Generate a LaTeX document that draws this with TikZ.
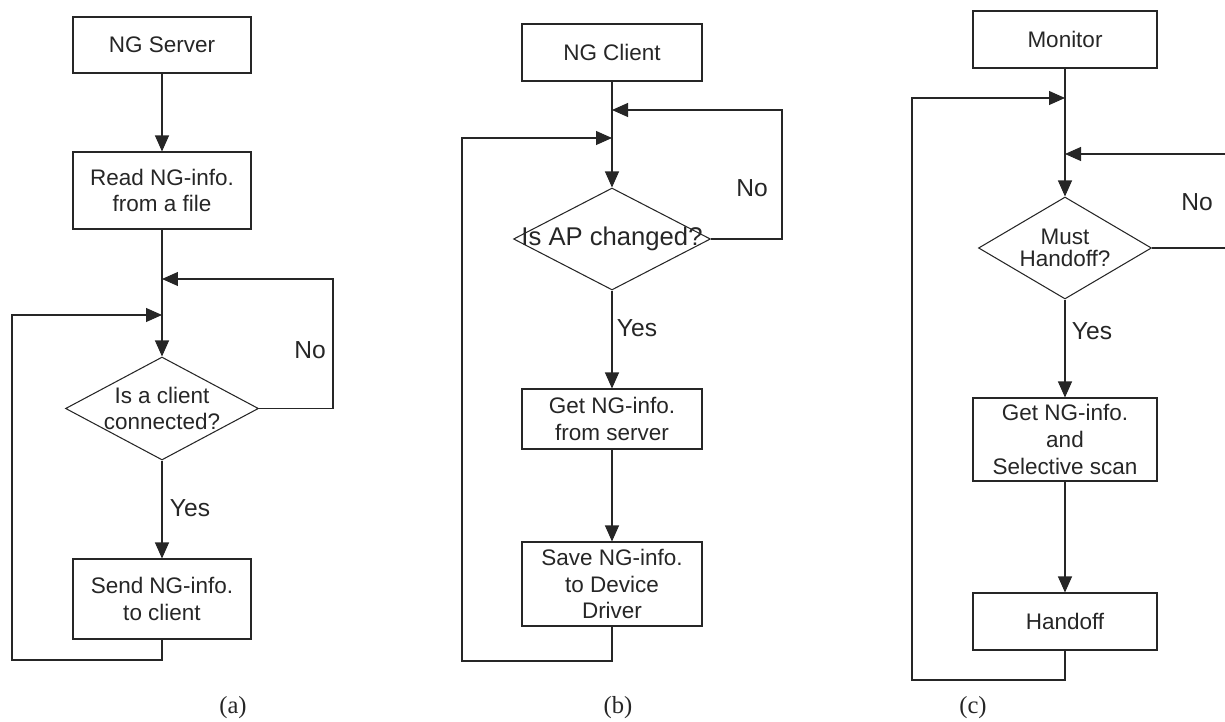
\documentclass[tikz,border=0pt]{standalone}
\usepackage{fontspec}
\setmainfont{Liberation Sans}
\newfontfamily\capfont{Liberation Serif}
\usetikzlibrary{arrows.meta,shapes.geometric}

\begin{document}
\begin{tikzpicture}[x=0.02cm,y=-0.02cm,line width=0.6pt,color=black!85,
  box/.style={draw,rectangle,inner sep=0pt,align=center,font=\fontsize{12.8}{15.3}\selectfont},
  dec/.style={draw,diamond,inner sep=0pt},
  dectext/.style={inner sep=0pt,align=center,font=\fontsize{12.8}{15.3}\selectfont},
  arr/.style={-{Triangle[length=0.32cm,width=0.28cm]}},
  yn/.style={inner sep=0pt,font=\fontsize{14}{16}\selectfont},
  subcap/.style={inner sep=0pt,font=\capfont\fontsize{14}{16}\selectfont}]
\useasboundingbox (0,0) rectangle (1225,722);

\node[box,minimum width=3.56cm,minimum height=1.12cm] (srv) at (162,45) {NG Server};
\node[box,minimum width=3.56cm,minimum height=1.54cm] (rda) at (162,190.5) {Read NG-info.\\from a file};
\node[dec,minimum width=3.86cm,minimum height=2.06cm] (qa) at (162,408.5) {};
\node[dectext] (qat) at (qa) {Is a client\\connected?};
\node[box,minimum width=3.56cm,minimum height=1.6cm] (snd) at (162,599) {Send NG-info.\\to client};
\node[yn] (yesa) at (190,508) {Yes};
\node[yn] (noa) at (310,350) {No};
\node[subcap] (capa) at (233,708) {(a)};
\coordinate (ina) at (162,279);
\coordinate (rta) at (333,279);
\coordinate (lpa) at (12,660);
\coordinate (inla) at (162,315);
\draw[arr] (srv) -- (rda);
\draw[arr] (rda) -- (qa);
\draw[arr] (qa) -- (snd);
\draw[arr] (qa.east) -| (rta) -- (ina);
\draw[arr] (snd.south) |- (lpa) |- (inla);

\node[box,minimum width=3.6cm,minimum height=1.14cm] (cli) at (612,52.5) {NG Client};
\node[dec,minimum width=3.94cm,minimum height=2.04cm] (qb) at (612,239) {};
\node[dectext,font=\fontsize{14.6}{16}\selectfont] (qbt) at (qb) {Is AP changed?};
\node[box,minimum width=3.6cm,minimum height=1.2cm] (getb) at (612,419) {Get NG-info.\\from server};
\node[box,minimum width=3.6cm,minimum height=1.68cm] (savb) at (612,584) {Save NG-info.\\to Device\\Driver};
\node[yn] (yesb) at (637,328) {Yes};
\node[yn] (nob) at (752,188) {No};
\node[subcap] (capb) at (618,708) {(b)};
\coordinate (inb) at (612,110);
\coordinate (rtb) at (782,110);
\coordinate (lpb) at (462,661);
\coordinate (inlb) at (612,138);
\draw[arr] (cli) -- (qb);
\draw[arr] (qb) -- (getb);
\draw[arr] (getb) -- (savb);
\draw[arr] (qb.east) -| (rtb) -- (inb);
\draw[arr] (savb.south) |- (lpb) |- (inlb);

\node[box,minimum width=3.68cm,minimum height=1.14cm] (mon) at (1065,39.5) {Monitor};
\node[dec,minimum width=3.46cm,minimum height=2.04cm] (qc) at (1065,248) {};
\node[dectext,font=\fontsize{12.8}{12.5}\selectfont] (qct) at (qc) {Must\\Handoff?};
\node[box,minimum width=3.68cm,minimum height=1.66cm] (getc) at (1065,439.5) {Get NG-info.\\and\\Selective scan};
\node[box,minimum width=3.68cm,minimum height=1.14cm] (hnd) at (1065,621.5) {Handoff};
\node[yn] (yesc) at (1092,331) {Yes};
\node[yn] (noc) at (1197,202) {No};
\node[subcap] (capc) at (973,708) {(c)};
\coordinate (inc) at (1065,154);
\coordinate (rtc) at (1232,154);
\coordinate (lpc) at (912,680);
\coordinate (inlc) at (1065,98);
\draw[arr] (mon) -- (qc);
\draw[arr] (qc) -- (getc);
\draw[arr] (getc) -- (hnd);
\draw[arr] (qc.east) -| (rtc) -- (inc);
\draw[arr] (hnd.south) |- (lpc) |- (inlc);
\end{tikzpicture}
\end{document}
